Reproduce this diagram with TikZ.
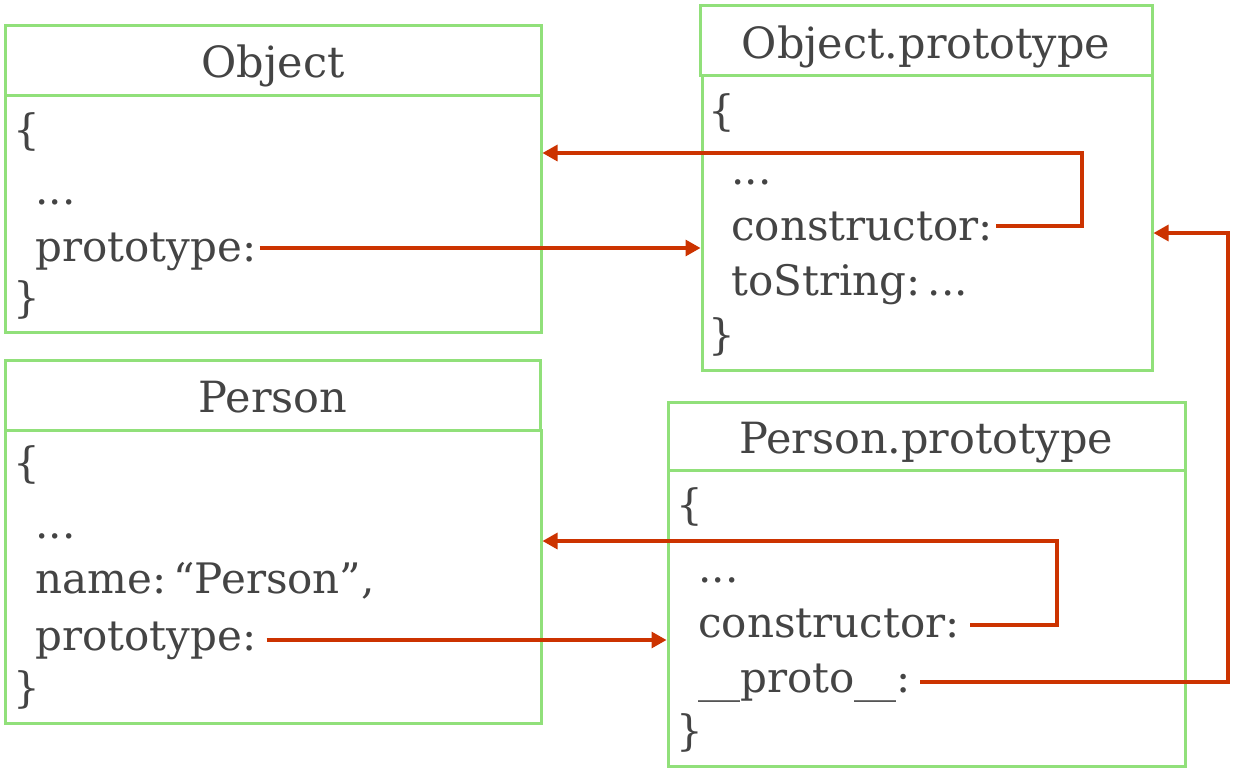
\documentclass[tikz,border=0pt]{standalone}
\usepackage{fontspec}
\setmainfont{DejaVu Serif}
\usetikzlibrary{arrows.meta,fit}

\definecolor{boxgreen}{RGB}{145,224,122}
\definecolor{linkred}{RGB}{204,51,0}
\definecolor{txtgray}{RGB}{68,68,68}

\tikzset{
  box/.style={draw=boxgreen,line width=1.5pt,inner sep=0pt},
  title/.style={text=txtgray,font=\fontsize{21.5}{25}\selectfont,anchor=base,inner sep=0pt},
  code/.style={text=txtgray,font=\fontsize{21}{25}\selectfont,anchor=base west,inner sep=0pt},
  link/.style={draw=linkred,line width=1.6pt,-{Triangle[length=7.5pt,width=8pt]}},
}

\begin{document}
\begin{tikzpicture}[x=0.5pt,y=-0.5pt]
\useasboundingbox (0,0) rectangle (1236,776);
% Object
\node[box,fit={(5,25) (541,95)}] (ohead) {};
\node[box,fit={(5,95) (541,332)}] (obody) {};
\node[title] (otitle) at (273,77) {Object};
\node[code] (oopen) at (13,144) {\{};
\node[code] (odots) at (35,204) {...};
\node[code] (oproto) at (35,261) {prototype:};
\node[code] (oclose) at (13,312) {\}};
% Object.prototype
\node[box,fit={(700,5) (1152,75)}] (ophead) {};
\node[box,fit={(702,75) (1152,370)}] (opbody) {};
\node[title] (optitle) at (926,58) {Object.prototype};
\node[code] (opopen) at (708,125) {\{};
\node[code] (opdots) at (731,184) {...};
\node[code] (opcons) at (731,240) {constructor:};
\node[code] (opstr) at (731,295) {toString:\,...};
\node[code] (opclose) at (708,349) {\}};
% Person
\node[box,fit={(5,360) (540,430)}] (phead) {};
\node[box,fit={(5,430) (541,723)}] (pbody) {};
\node[title] (ptitle) at (273,412) {Person};
\node[code] (popen) at (13,477) {\{};
\node[code] (pdots) at (35,538) {...};
\node[code] (pname) at (35,593) {name:\,“Person”,};
\node[code] (pproto) at (35,650) {prototype:};
\node[code] (pclose) at (13,702) {\}};
% Person.prototype
\node[box,fit={(668,402) (1185,470)}] (pphead) {};
\node[box,fit={(668,470) (1185,766)}] (ppbody) {};
\node[title] (pptitle) at (926,453) {Person.prototype};
\node[code] (ppopen) at (676,519) {\{};
\node[code] (ppdots) at (698,582) {...};
\node[code] (ppcons) at (698,637) {constructor:};
\node[code] (ppproto) at (698,692) {\_\_proto\_\_:};
\node[code] (ppclose) at (676,745) {\}};

\coordinate (oback) at (1082,153);
\coordinate (pback) at (1057,541);
\coordinate (pup) at (1228,233);

\draw[link] ([xshift=1.5pt,yshift=6.5pt]oproto.base east) -- ([yshift=6.5pt]oproto.base east -| opbody.west);
\draw[link] ([xshift=5pt,yshift=5pt]pproto.base east) -- ([yshift=5pt]pproto.base east -| ppbody.west);
\draw[link] ([xshift=1.5pt,yshift=7pt]opcons.base east) -| (oback) -- (oback -| obody.east);
\draw[link] ([xshift=5pt,yshift=6pt]ppcons.base east) -| (pback) -- (pback -| pbody.east);
\draw[link] ([xshift=4.5pt,yshift=5pt]ppproto.base east) -| (pup) -- (pup -| opbody.east);
\end{tikzpicture}
\end{document}
